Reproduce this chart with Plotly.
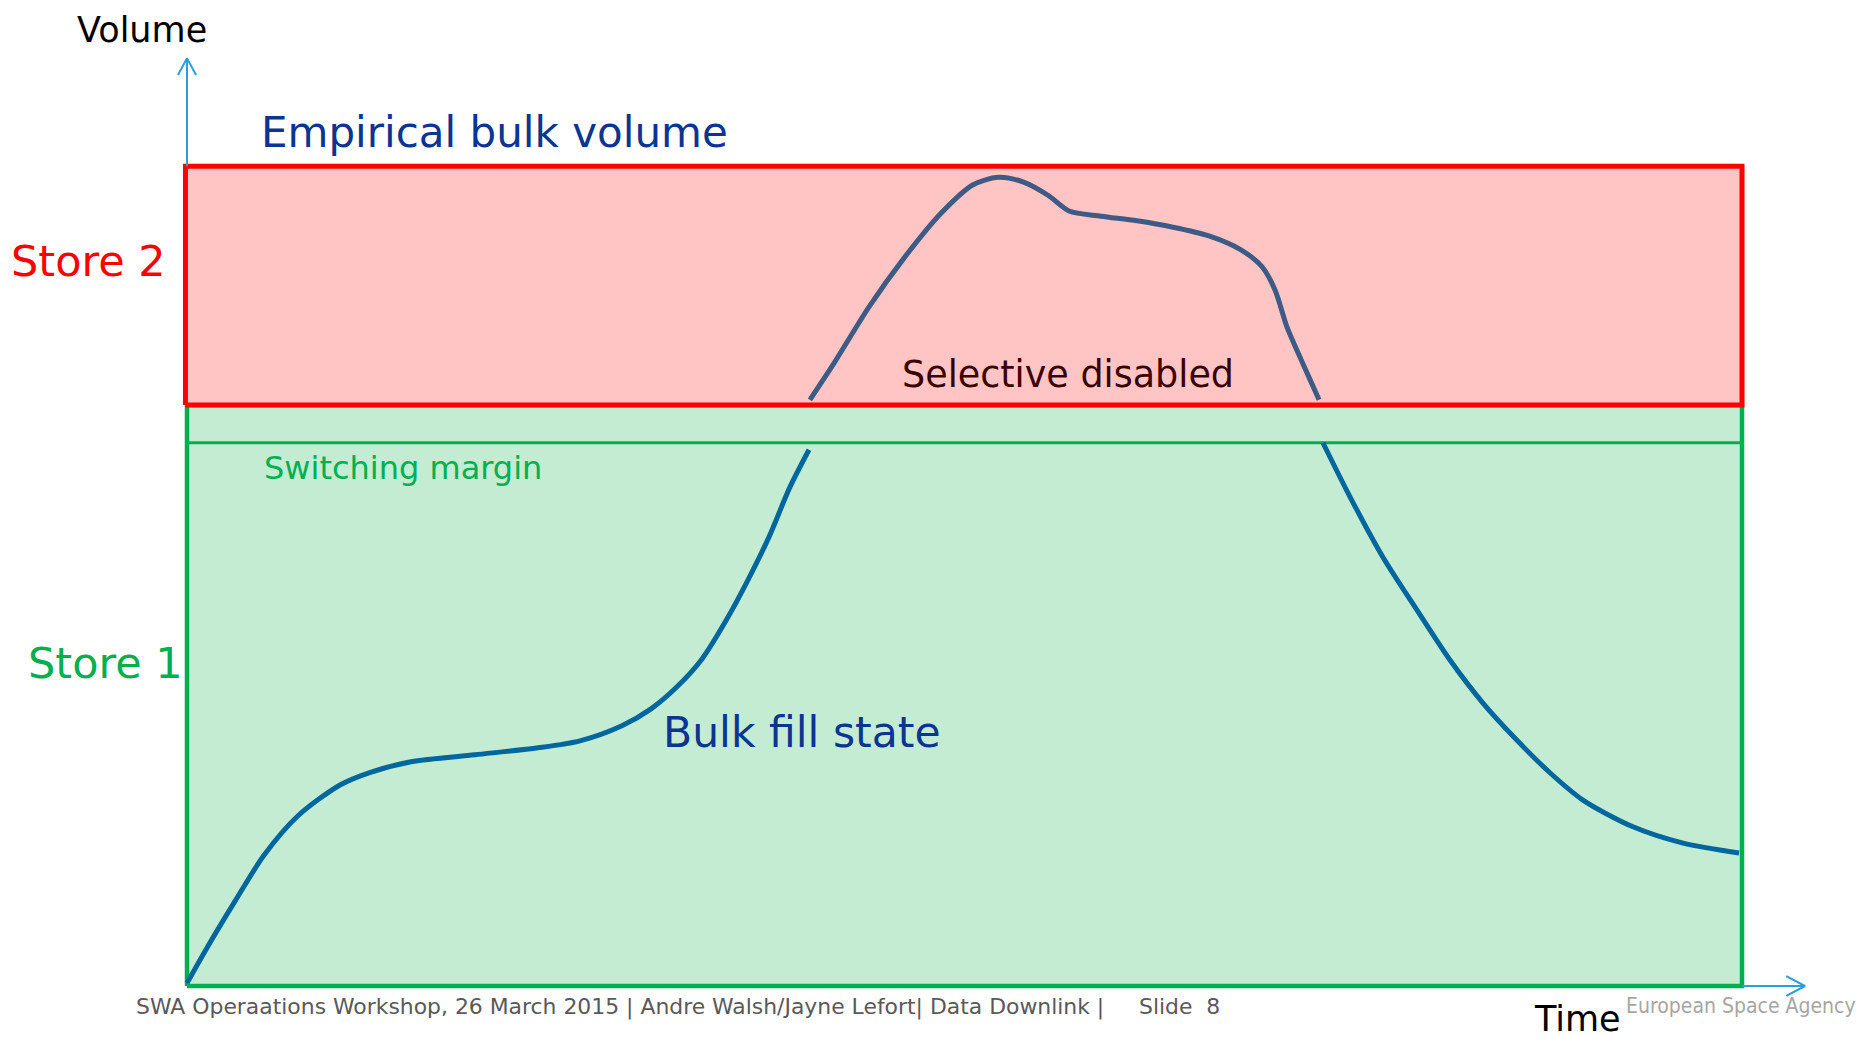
import plotly.graph_objects as go

# ---------------- data (time 0..100, volume in % of store 1 capacity) ----------------
store1_capacity = 100.0
switching_margin = 93.5
store2_top = 141.1

fill_rise_t = [0.0, 1.16, 3.09, 4.95, 7.14, 9.84, 11.70, 14.41, 18.52, 22.57, 25.27,
               27.97, 29.84, 31.51, 33.12, 34.73, 36.08, 37.43, 38.78, 40.0]
fill_rise_v = [0.5, 6.0, 14.6, 22.5, 29.3, 34.6, 36.7, 38.6, 39.8, 41.0, 42.2,
               44.8, 47.7, 51.5, 56.3, 63.2, 69.9, 77.3, 85.9, 92.3]

store2_t = [40.06, 41.61, 43.86, 46.17, 48.49, 50.55, 52.15, 53.76, 55.37, 56.72,
            58.78, 61.09, 63.41, 65.72, 67.78, 69.13, 69.97, 70.74, 71.45, 72.15, 72.80]
store2_v = [100.9, 107.2, 116.9, 125.5, 133.0, 137.9, 139.2, 138.4, 136.1, 133.4,
            132.5, 131.7, 130.6, 129.1, 126.7, 123.8, 119.8, 113.4, 109.0, 104.8, 100.9]

fill_fall_t = [73.05, 74.79, 76.91, 79.10, 81.22, 83.34, 85.53, 87.65, 89.77, 92.99, 96.21, 99.81]
fill_fall_v = [93.5, 84.2, 73.8, 64.7, 56.1, 48.7, 42.3, 36.7, 32.0, 27.4, 24.6, 22.9]

t_end = 100.0
axis_y_top = 159.7
axis_x_end = 104.05

# ---------------- colours ----------------
GREEN = "#00b050"
RED = "#ff0000"
AXIS_BLUE = "#2b9fd9"
CURVE_BLUE = "#00679e"
CURVE_SLATE = "#3d5b85"
DARK_BLUE = "#0b3590"

fig = go.Figure()

# Store 1 (green box)
fig.add_trace(go.Scatter(
    x=[0, t_end, t_end, 0, 0], y=[0, 0, store1_capacity, store1_capacity, 0],
    mode="lines", fill="toself", fillcolor="rgb(196,236,211)",
    line=dict(color=GREEN, width=4.5), hoverinfo="skip", showlegend=False))

# Store 2 (red box)
fig.add_trace(go.Scatter(
    x=[-0.1, t_end, t_end, -0.1, -0.1],
    y=[store1_capacity, store1_capacity, store2_top, store2_top, store1_capacity],
    mode="lines", fill="toself", fillcolor="rgb(255,196,196)",
    line=dict(color=RED, width=5), hoverinfo="skip", showlegend=False))

# Switching margin
fig.add_trace(go.Scatter(
    x=[0, t_end], y=[switching_margin, switching_margin], mode="lines",
    line=dict(color=GREEN, width=3), hoverinfo="skip", showlegend=False))

# Axes arrows
fig.add_trace(go.Scatter(
    x=[0, 0, None, -0.58, 0, 0.58], y=[store2_top, axis_y_top, None, axis_y_top - 2.9, axis_y_top, axis_y_top - 2.9],
    mode="lines", line=dict(color=AXIS_BLUE, width=2), hoverinfo="skip", showlegend=False))
fig.add_trace(go.Scatter(
    x=[t_end, axis_x_end, None, axis_x_end - 1.2, axis_x_end, axis_x_end - 1.2],
    y=[0, 0, None, 1.7, 0, -1.7],
    mode="lines", line=dict(color=AXIS_BLUE, width=2), hoverinfo="skip", showlegend=False))

# Bulk fill state curves
for tx, vy, col in [(fill_rise_t, fill_rise_v, CURVE_BLUE),
                    (store2_t, store2_v, CURVE_SLATE),
                    (fill_fall_t, fill_fall_v, CURVE_BLUE)]:
    fig.add_trace(go.Scatter(
        x=tx, y=vy, mode="lines", line=dict(color=col, width=5, shape="spline", smoothing=0.8),
        hoverinfo="skip", showlegend=False))

# page has an 8px body margin: figure occupies page px 8..1868 x 8..1039
OFF = 8
W, H = 1868 - OFF, 1039 - OFF


def px(x, y):
    return (x - OFF) / W, 1 - (y - OFF) / H


def label(text, x, y, size, color, family="DejaVu Sans", anchor="left", yanchor="middle"):
    ax, ay = px(x, y)
    fig.add_annotation(text=text, x=ax, y=ay, xref="paper", yref="paper",
                       xanchor=anchor, yanchor=yanchor, showarrow=False,
                       font=dict(size=size, color=color, family=family))


label("Volume", 75, OFF, 35, "#000000", yanchor="top")
label("Empirical bulk volume", 259, 132, 42, DARK_BLUE)
label("Store 2", 9, 261, 43, RED)
label("Store 1", 26, 663, 43, GREEN)
label("Switching margin", 262, 468, 32, GREEN)
label("Selective disabled", 900, 374, 36.5, "#3a0000")
label("Bulk fill state", 661, 732, 42.5, DARK_BLUE)
label("Time", 1532, 1019, 35, "#000000")
label("SWA Operaations Workshop, 26 March 2015 | Andre Walsh/Jayne Lefort| Data Downlink |     Slide  8",
      134, 1007, 21.9, "#595959", family="DejaVu Sans")
label("European Space Agency", 1624, 1006, 21, "#a6a6a6",
      family="DejaVu Sans Condensed, Liberation Sans Narrow, Liberation Sans, sans-serif")

# time = (page px - 187)/15.55 ; volume = (986 - page py)/5.81
x0 = (OFF - 187) / 15.55
x1 = (OFF + W - 187) / 15.55
y_top = (986 - OFF) / 5.81
y_bot = (986 - (OFF + H)) / 5.81

fig.update_layout(
    width=W, height=H,
    margin=dict(l=0, r=0, t=0, b=0),
    paper_bgcolor="white", plot_bgcolor="white",
    xaxis=dict(range=[x0, x1], visible=False, fixedrange=True),
    yaxis=dict(range=[y_bot, y_top], visible=False, fixedrange=True),
    showlegend=False,
)

fig.write_html("out.html")
